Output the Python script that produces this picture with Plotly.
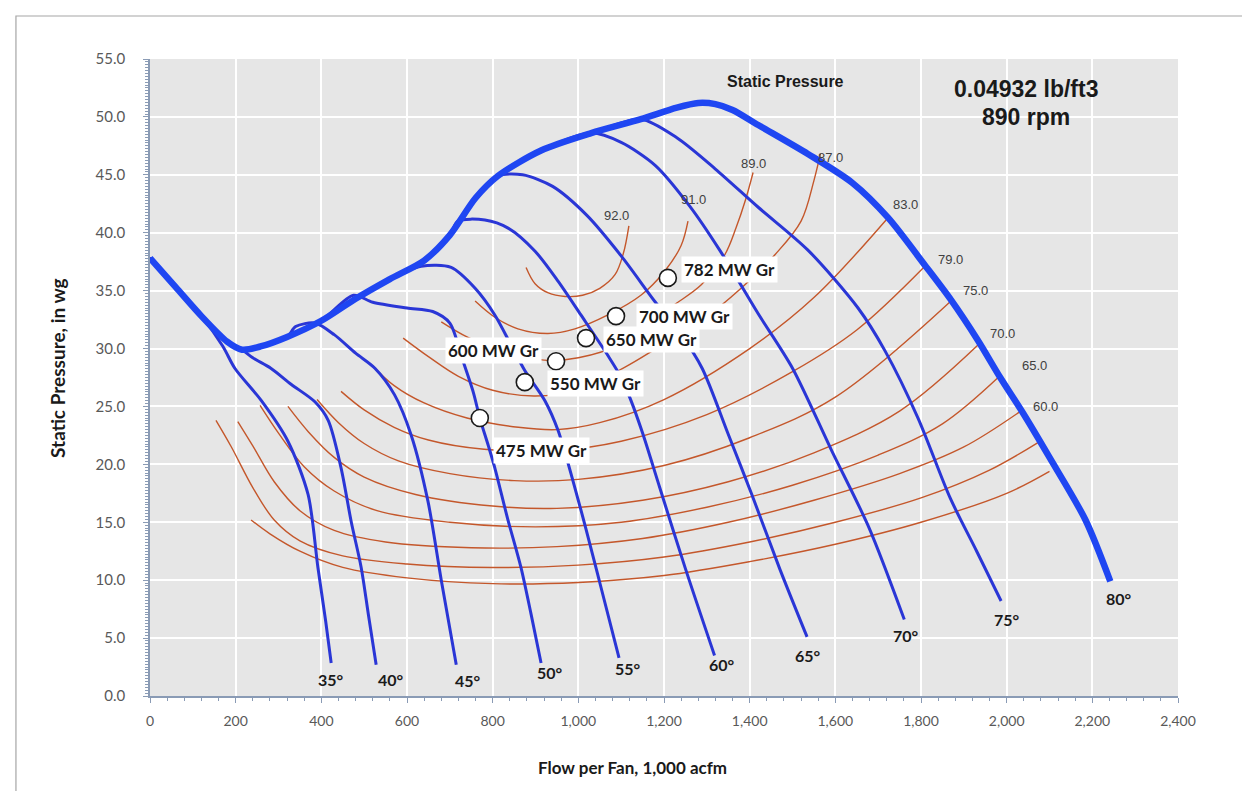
import plotly.graph_objects as go

# ---------------- data ----------------
# 80 deg blade curve (outer envelope), flow in 1,000 acfm, static pressure in wg
ENV_FLOW = [0, 60, 120, 180, 215, 260, 320, 400, 480, 560, 640, 700, 760, 812, 913, 1030, 1146, 1230, 1280,
            1320, 1360, 1420, 1536, 1640, 1723, 1809, 1870, 1933, 1985, 2037, 2100, 2184, 2242]
ENV_PRES = [37.8, 35.3, 32.8, 30.6, 29.9, 30.2, 31.0, 32.4, 34.3, 36.0, 37.6, 39.8, 43.0, 44.9, 47.1, 48.6, 49.8, 50.8, 51.2,
            51.1, 50.6, 49.3, 46.8, 44.3, 41.3, 37.2, 34.2, 30.7, 27.5, 24.5, 20.6, 15.2, 9.9]

# tails of the other blade-angle curves (after leaving the envelope)
B35_FLOW = [170, 198, 260, 322, 369, 392, 410, 423]
B35_PRES = [30.2, 28.3, 25.5, 22.0, 17.4, 11.1, 6.5, 2.85]
B40_FLOW = [240, 282, 330, 385, 416, 446, 470, 493, 510, 528]
B40_PRES = [29.2, 28.3, 26.9, 25.4, 23.8, 19.7, 15.0, 11.1, 7.0, 2.7]
B45_FLOW = [340, 385, 430, 480, 525, 571, 610, 649, 680, 715]
B45_PRES = [31.9, 32.2, 31.2, 29.6, 28.3, 26.0, 22.5, 16.8, 10.0, 2.7]
B50_FLOW = [475, 520, 600, 660, 700, 730, 755, 770, 790, 805, 835, 866, 890, 913]
B50_PRES = [34.6, 34.0, 33.5, 33.2, 32.2, 29.0, 26.2, 24.0, 21.6, 19.7, 15.3, 11.1, 7.0, 2.85]
B55_FLOW = [633, 703, 759, 805, 843, 875, 922, 953, 1005, 1050, 1095]
B55_PRES = [37.1, 37.0, 35.2, 32.9, 30.3, 28.1, 25.5, 22.9, 16.2, 9.8, 3.3]
B60_FLOW = [719, 782, 836, 899, 953, 1006, 1069, 1100, 1123, 1150, 1190, 1250, 1318]
B60_PRES = [41.0, 41.1, 40.4, 38.4, 35.8, 32.9, 29.4, 27.5, 25.5, 22.7, 18.0, 11.0, 3.5]
B65_FLOW = [870, 940, 1020, 1100, 1180, 1240, 1289, 1350, 1405, 1470, 1534]
B65_PRES = [45.0, 44.0, 41.5, 38.0, 34.0, 31.2, 28.3, 22.6, 17.4, 11.0, 5.1]
B70_FLOW = [1100, 1180, 1260, 1330, 1420, 1500, 1590, 1679, 1761]
B70_PRES = [47.8, 45.8, 42.3, 38.5, 33.0, 28.3, 21.3, 14.5, 6.6]
B75_FLOW = [1230, 1320, 1420, 1536, 1653, 1716, 1793, 1868, 1930, 1987]
B75_PRES = [48.2, 45.5, 42.2, 38.5, 33.5, 29.8, 24.0, 17.1, 12.5, 8.2]

BLADE_NAMES = ["35°", "40°", "45°", "50°", "55°", "60°", "65°", "70°", "75°", "80°"]
BLADE_LABEL_FLOW = [423, 563, 742, 934, 1116, 1335, 1537, 1766, 2000, 2262]
BLADE_LABEL_PRES = [1.4, 1.4, 1.3, 2.0, 2.4, 2.7, 3.5, 5.2, 6.6, 8.4]

# iso-efficiency curves
E92_FLOW = [878, 899, 930, 969, 1010, 1050, 1086, 1105, 1118]
E92_PRES = [37.0, 35.6, 34.8, 34.5, 34.6, 35.2, 36.4, 38.2, 40.6]
E91_FLOW = [759, 805, 859, 929, 992, 1069, 1146, 1202, 1240, 1256]
E91_PRES = [34.1, 32.7, 31.7, 31.3, 31.7, 32.9, 34.6, 36.7, 38.9, 41.0]
E89_FLOW = [680, 740, 820, 920, 1000, 1100, 1217, 1287, 1342, 1368, 1390, 1408]
E89_PRES = [32.3, 31.0, 29.8, 29.0, 29.2, 30.4, 33.6, 35.5, 38.1, 40.4, 42.8, 45.2]
E87_FLOW = [591, 650, 720, 800, 900, 1000, 1109, 1186, 1287, 1380, 1459, 1520, 1550, 1565]
E87_PRES = [30.9, 29.3, 27.6, 26.4, 25.9, 26.5, 28.4, 30.1, 32.4, 35.2, 38.1, 41.0, 44.5, 46.8]
E83_FLOW = [520, 570, 640, 740, 860, 950, 1050, 1200, 1400, 1550, 1723]
E83_PRES = [28.5, 26.8, 25.3, 24.0, 23.2, 23.0, 23.6, 25.6, 30.0, 34.4, 41.3]
E79_FLOW = [446, 500, 570, 650, 780, 950, 1100, 1300, 1500, 1650, 1809]
E79_PRES = [26.3, 24.7, 23.2, 22.1, 21.3, 21.2, 22.0, 24.3, 28.0, 31.6, 37.1]
E75_FLOW = [390, 440, 500, 580, 700, 850, 1000, 1200, 1400, 1600, 1870]
E75_PRES = [25.6, 23.6, 21.8, 20.3, 19.2, 18.6, 18.7, 19.9, 22.3, 25.8, 34.1]
E70_FLOW = [322, 370, 430, 500, 620, 800, 950, 1150, 1350, 1550, 1750, 1933]
E70_PRES = [25.0, 22.8, 20.6, 18.9, 17.4, 16.4, 16.2, 16.9, 18.5, 21.0, 24.6, 30.3]
E65_FLOW = [257, 300, 360, 430, 530, 700, 900, 1100, 1300, 1500, 1700, 1850, 1980]
E65_PRES = [25.1, 22.7, 19.8, 17.7, 16.0, 15.0, 14.6, 15.0, 16.3, 18.2, 20.8, 23.5, 27.5]
E60_FLOW = [205, 240, 290, 350, 430, 550, 750, 950, 1150, 1350, 1550, 1750, 1900, 2033]
E60_PRES = [23.7, 21.6, 18.5, 16.0, 14.3, 13.3, 12.8, 12.9, 13.6, 15.0, 16.9, 19.2, 21.5, 24.6]
EU1_FLOW = [154, 190, 240, 290, 350, 450, 600, 800, 1000, 1200, 1400, 1600, 1800, 1960, 2074]
EU1_PRES = [23.8, 21.5, 18.0, 15.2, 13.4, 12.1, 11.4, 11.1, 11.3, 12.0, 13.3, 15.0, 17.1, 19.5, 21.9]
EU2_FLOW = [236, 280, 350, 450, 600, 800, 1000, 1200, 1400, 1600, 1800, 2000, 2100]
EU2_PRES = [15.2, 14.0, 12.5, 11.1, 10.2, 9.7, 9.8, 10.4, 11.6, 13.1, 15.0, 17.5, 19.4]

EFF_LABELS = ["92.0", "91.0", "89.0", "87.0", "83.0", "79.0", "75.0", "70.0", "65.0", "60.0"]
EFF_LABEL_FLOW = [1090, 1268, 1408, 1588, 1763, 1868, 1928, 1991, 2066, 2090]
EFF_LABEL_PRES = [41.5, 42.9, 46.0, 46.5, 42.4, 37.7, 35.0, 31.3, 28.5, 25.0]

# operating points
OP_NAMES = ["475 MW Gr", "550 MW Gr", "600 MW Gr", "650 MW Gr", "700 MW Gr", "782 MW Gr"]
OP_FLOW = [770, 875, 948, 1018, 1088, 1209]
OP_PRES = [24.0, 27.1, 28.9, 30.9, 32.8, 36.1]
OP_LABEL_FLOW = [913, 1039, 801, 1170, 1247, 1354]
OP_LABEL_PRES = [21.2, 27.0, 29.8, 30.8, 32.8, 36.8]

X_TICKS = list(range(0, 2401, 200))
Y_TICKS = [i * 5 for i in range(12)]

# ---------------- figure ----------------
BLUE = "#2a36d6"
BLUE_ENV = "#1f46f2"
ORANGE = "#c4572b"
AXIS = "#8a9bb5"

fig = go.Figure()

eff_curves = [(E92_FLOW, E92_PRES), (E91_FLOW, E91_PRES), (E89_FLOW, E89_PRES), (E87_FLOW, E87_PRES),
              (E83_FLOW, E83_PRES), (E79_FLOW, E79_PRES), (E75_FLOW, E75_PRES), (E70_FLOW, E70_PRES),
              (E65_FLOW, E65_PRES), (E60_FLOW, E60_PRES), (EU1_FLOW, EU1_PRES), (EU2_FLOW, EU2_PRES)]
for fx, fy in eff_curves:
    fig.add_trace(go.Scatter(x=fx, y=fy, mode="lines",
                             line=dict(color=ORANGE, width=1.4, shape="spline", smoothing=1.0),
                             hoverinfo="skip"))

tails = [(B35_FLOW, B35_PRES), (B40_FLOW, B40_PRES), (B45_FLOW, B45_PRES), (B50_FLOW, B50_PRES),
         (B55_FLOW, B55_PRES), (B60_FLOW, B60_PRES), (B65_FLOW, B65_PRES), (B70_FLOW, B70_PRES),
         (B75_FLOW, B75_PRES)]
for tx, ty in tails:
    head = [(f, p) for f, p in zip(ENV_FLOW, ENV_PRES) if f < tx[0]]
    xs = [h[0] for h in head] + tx
    ys = [h[1] for h in head] + ty
    fig.add_trace(go.Scatter(x=xs, y=ys, mode="lines",
                             line=dict(color=BLUE, width=3, shape="spline", smoothing=0.8),
                             hoverinfo="skip"))

fig.add_trace(go.Scatter(x=ENV_FLOW, y=ENV_PRES, mode="lines",
                         line=dict(color=BLUE_ENV, width=6.5, shape="spline", smoothing=0.8),
                         hoverinfo="skip"))

fig.add_trace(go.Scatter(x=OP_FLOW, y=OP_PRES, mode="markers",
                         marker=dict(size=17, color="white", line=dict(color="#1a1a1a", width=1.6)),
                         hoverinfo="skip"))

ann = []
for name, fx, fy in zip(BLADE_NAMES, BLADE_LABEL_FLOW, BLADE_LABEL_PRES):
    ann.append(dict(x=fx, y=fy, xref="x", yref="y", text=name, showarrow=False,
                    font=dict(family="Lato", size=16, color="#1a1a1a", weight="bold")))
for t, fx, fy in zip(EFF_LABELS, EFF_LABEL_FLOW, EFF_LABEL_PRES):
    ann.append(dict(x=fx, y=fy, xref="x", yref="y", text=t, showarrow=False,
                    font=dict(family="Liberation Sans", size=13, color="#404040")))
for t, fx, fy in zip(OP_NAMES, OP_LABEL_FLOW, OP_LABEL_PRES):
    ann.append(dict(x=fx, y=fy, xref="x", yref="y", text=t, showarrow=False, bgcolor="white",
                    borderpad=2, font=dict(family="Lato", size=17, color="#1a1a1a", weight="bold")))

ann.append(dict(x=1483, y=53.1, xref="x", yref="y", text="Static Pressure", showarrow=False,
                font=dict(family="Liberation Sans", size=16, color="#1a1a1a", weight="bold")))
ann.append(dict(x=2045, y=52.4, xref="x", yref="y", text="0.04932 lb/ft3", showarrow=False,
                font=dict(family="Liberation Sans", size=23, color="#1a1a1a", weight="bold")))
ann.append(dict(x=2045, y=50.0, xref="x", yref="y", text="890 rpm", showarrow=False,
                font=dict(family="Liberation Sans", size=23, color="#1a1a1a", weight="bold")))
ann.append(dict(x=0.469, y=-0.113, xref="paper", yref="paper", xanchor="center", yanchor="middle",
                text="Flow per Fan, 1,000 acfm", showarrow=False,
                font=dict(family="Lato", size=17, color="#1a1a1a", weight="bold")))
ann.append(dict(x=-0.0895, y=0.515, xref="paper", yref="paper", xanchor="center", yanchor="middle",
                text="Static Pressure, in wg", showarrow=False, textangle=-90,
                font=dict(family="Lato", size=19, color="#1a1a1a", weight="bold")))

fig.update_layout(
    width=1250, height=791,
    margin=dict(l=142, r=80, t=51, b=103),
    plot_bgcolor="#e6e6e6", paper_bgcolor="white",
    showlegend=False,
    annotations=ann,
    shapes=[dict(type="rect", xref="paper", yref="paper", x0=-0.1304, x1=1.069, y0=-0.2, y1=1.0675,
                 line=dict(color="#a6a6a6", width=1.2), fillcolor="rgba(0,0,0,0)", layer="below")],
    xaxis=dict(range=[0, 2400], tickvals=X_TICKS, tickformat=",", showgrid=True, gridcolor="white", gridwidth=2,
               showline=True, linecolor=AXIS, linewidth=1.5, ticks="outside", ticklen=5, tickcolor=AXIS,
               ticklabelstandoff=6,
               minor=dict(dtick=40, ticks="outside", ticklen=3, tickcolor=AXIS, showgrid=False),
               zeroline=False, tickfont=dict(family="Lato", size=14, color="#595959")),
    yaxis=dict(range=[0, 55], tickvals=Y_TICKS, tickformat=".1f", showgrid=True, gridcolor="white", gridwidth=2,
               showline=True, linecolor=AXIS, linewidth=1.5, ticks="outside", ticklen=5, tickcolor=AXIS,
               ticklabelstandoff=15,
               minor=dict(dtick=0.25, ticks="outside", ticklen=3, tickcolor=AXIS, showgrid=False),
               zeroline=False, tickfont=dict(family="Lato", size=15, color="#595959")),
)

fig.write_html("out.html")
